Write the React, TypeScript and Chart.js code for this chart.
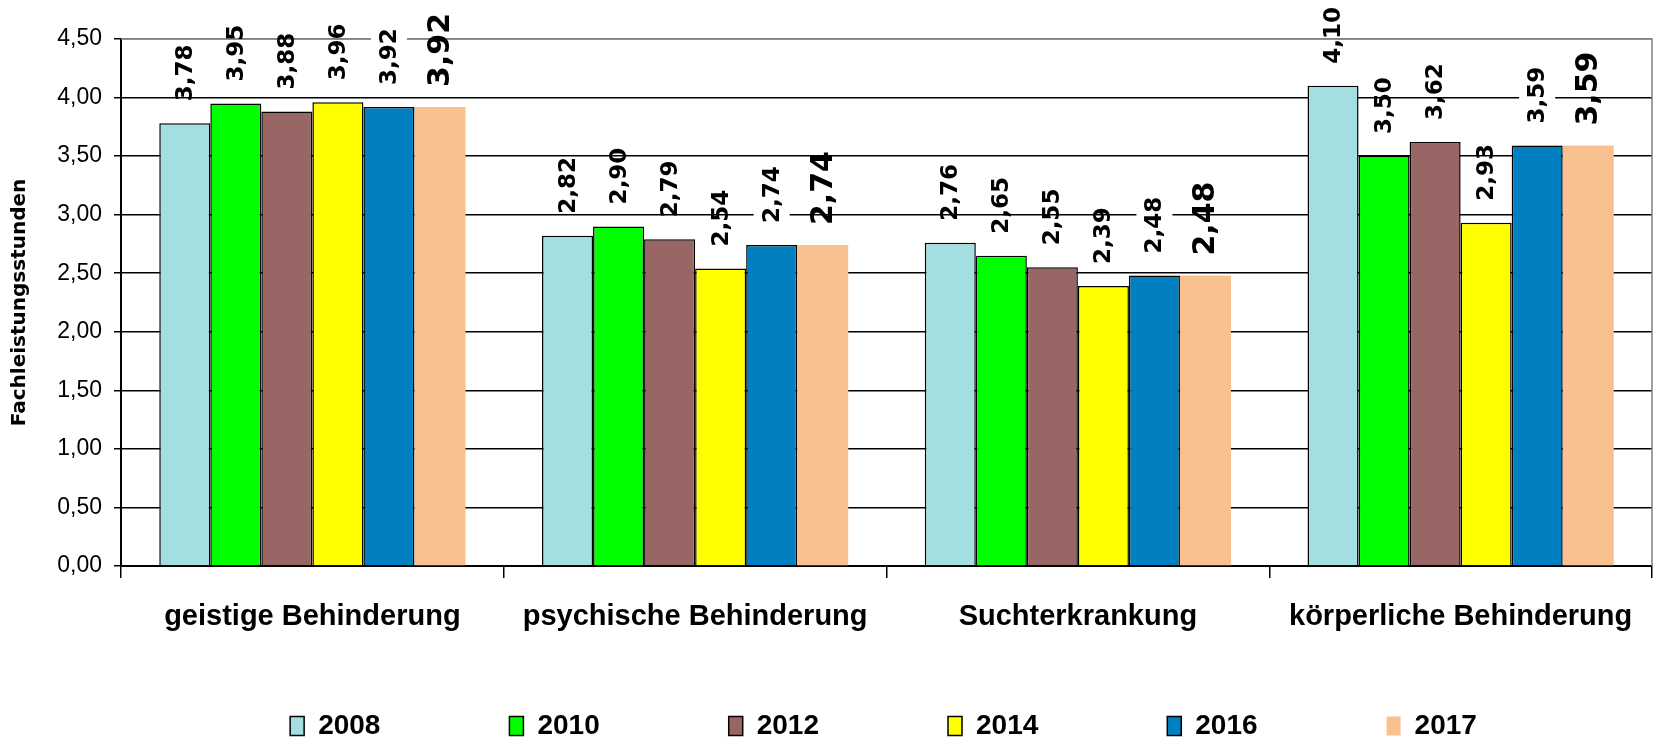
import React, { useEffect, useRef } from "react";
import { Chart, registerables } from "chart.js";

Chart.register(...registerables);

const categories = [
  "geistige Behinderung",
  "psychische Behinderung",
  "Suchterkrankung",
  "körperliche Behinderung",
];
const seriesLabels = ["2008", "2010", "2012", "2014", "2016", "2017"];
const values2008 = [3.78, 2.82, 2.76, 4.1];
const values2010 = [3.95, 2.9, 2.65, 3.5];
const values2012 = [3.88, 2.79, 2.55, 3.62];
const values2014 = [3.96, 2.54, 2.39, 2.93];
const values2016 = [3.92, 2.74, 2.48, 3.59];
const values2017 = [3.92, 2.74, 2.48, 3.59];
const seriesColors = ["#A3DFE0", "#00FF00", "#996666", "#FFFF00", "#0080C0", "#F9C090"];
const yTicks = [0, 0.5, 1, 1.5, 2, 2.5, 3, 3.5, 4, 4.5];

const SANS = "'Liberation Sans', Arial, sans-serif";
const WIDE = "'DejaVu Sans', 'Liberation Sans', sans-serif";

const fmt = (v: number) => v.toFixed(2).replace(".", ",");

const labelPlugin = {
  id: "barValueLabels",
  afterDatasetsDraw(chart: any) {
    const ctx = chart.ctx;
    chart.data.datasets.forEach((ds: any, di: number) => {
      const meta = chart.getDatasetMeta(di);
      const big = di === 5;
      const size = big ? 30 : 23;
      meta.data.forEach((bar: any, i: number) => {
        const text = fmt(ds.data[i]);
        ctx.save();
        ctx.font = `bold ${size}px ${WIDE}`;
        ctx.translate(bar.x, bar.y - (big ? 20 : 22));
        ctx.rotate(-Math.PI / 2);
        const w = ctx.measureText(text).width;
        if (di === 4) {
          ctx.fillStyle = "#ffffff";
          ctx.fillRect(-3, -18, w + 6, 36);
        }
        ctx.fillStyle = "#000000";
        ctx.textAlign = "left";
        ctx.textBaseline = "middle";
        ctx.fillText(text, 0, 1);
        ctx.restore();
      });
    });
  },
};

const framePlugin = {
  id: "frameAndLegendPos",
  afterLayout(chart: any) {
    const lg = chart.legend;
    if (lg) {
      const pad = lg.options.labels.padding;
      const itemH = 28;
      lg.left = 110;
      lg.right = 1657;
      lg.top = 726 - itemH / 2 - pad;
    }
  },
  beforeDatasetsDraw(chart: any) {
    const { ctx, chartArea } = chart;
    ctx.save();
    ctx.strokeStyle = "#808080";
    ctx.lineWidth = 1.5;
    ctx.beginPath();
    ctx.moveTo(chartArea.left, chartArea.top);
    ctx.lineTo(chartArea.right, chartArea.top);
    ctx.lineTo(chartArea.right, chartArea.bottom);
    ctx.stroke();
    ctx.restore();
  },
};

const seriesValues = [values2008, values2010, values2012, values2014, values2016, values2017];

export default function App() {
  const ref = useRef<HTMLCanvasElement | null>(null);
  useEffect(() => {
    if (!ref.current) return;
    const chart = new Chart(ref.current, {
      type: "bar",
      data: {
        labels: categories,
        datasets: seriesLabels.map((lab, i) => ({
          label: lab,
          data: seriesValues[i],
          backgroundColor: seriesColors[i],
          borderColor: "#000000",
          borderWidth: i === 5 ? 0 : 1.5,
          barPercentage: 1,
          categoryPercentage: 0.8,
        })),
      },
      options: {
        responsive: false,
        animation: false,
        layout: { padding: { top: 39, right: 5, left: 0, bottom: 0 } },
        plugins: {
          tooltip: { enabled: false },
          legend: {
            position: "bottom",
            maxHeight: 50,
            labels: {
              boxWidth: 14,
              boxHeight: 19,
              padding: 129,
              color: "#000",
              font: { family: SANS, size: 28, weight: "bold" },
            },
          },
        },
        scales: {
          x: {
            grid: {
              display: true,
              drawOnChartArea: false,
              drawTicks: true,
              tickLength: 12,
              color: "#000",
              lineWidth: 1.5,
            },
            border: { color: "#000", width: 2 },
            ticks: {
              color: "#000",
              padding: 22,
              autoSkip: false,
              maxRotation: 0,
              minRotation: 0,
              font: { family: SANS, size: 29, weight: "bold" },
            },
            afterFit(scale: any) {
              scale.height = 122;
              scale.paddingLeft = 0;
              scale.paddingRight = 0;
            },
          },
          y: {
            min: 0,
            max: 4.5,
            afterBuildTicks(scale: any) {
              scale.ticks = yTicks.map((v) => ({ value: v }));
            },
            grid: {
              color: (c: any) => (c.tick && c.tick.value === 4.5 ? "#808080" : "#000"),
              lineWidth: 1.5,
              drawTicks: true,
              tickLength: 7,
              tickColor: "#000",
            },
            border: { color: "#000", width: 2 },
            ticks: {
              color: "#000",
              padding: 12,
              font: { family: SANS, size: 23 },
              callback: (v: any) => fmt(Number(v)),
            },
            title: {
              display: true,
              text: "Fachleistungsstunden",
              color: "#000",
              padding: { top: 8, bottom: 0 },
              font: { family: WIDE, size: 20, weight: "bold" },
            },
            afterFit(scale: any) {
              scale.width = 121;
            },
          },
        },
      },
      plugins: [labelPlugin, framePlugin],
    });
    return () => chart.destroy();
  }, []);
  return (
    <div style={{ position: "fixed", left: 0, top: 0, width: 1657, height: 738, background: "#fff" }}>
      <canvas ref={ref} width={1657} height={738} />
    </div>
  );
}
